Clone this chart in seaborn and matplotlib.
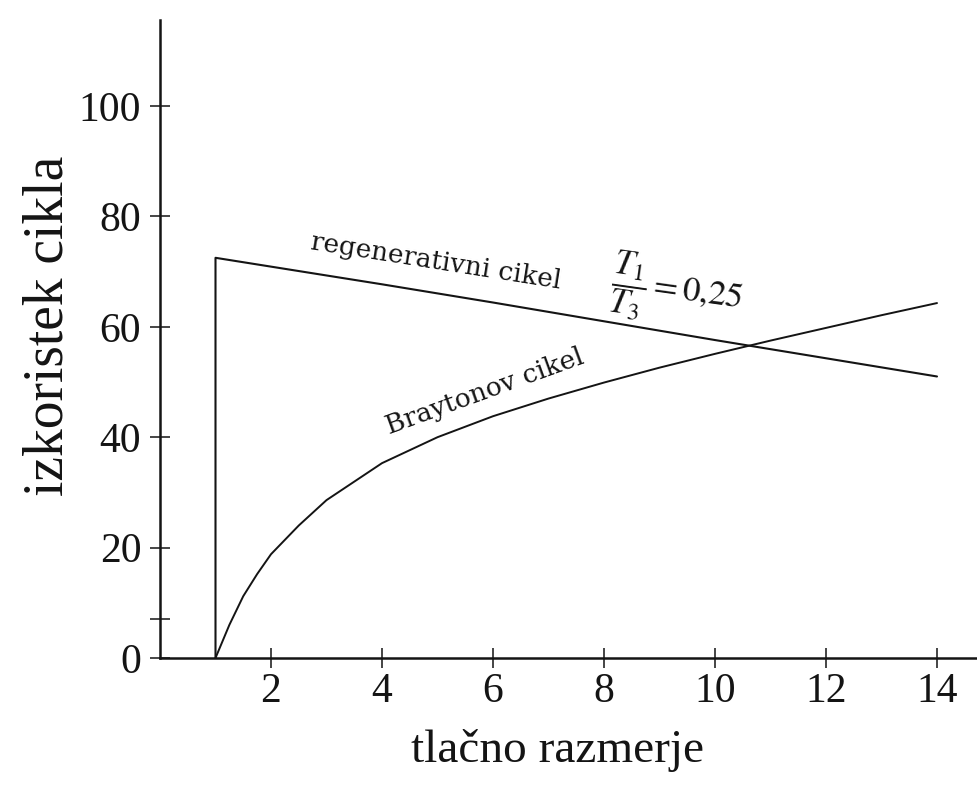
import matplotlib
matplotlib.use("Agg")
import matplotlib.pyplot as plt
from matplotlib.ticker import FixedLocator
import seaborn as sns
import pandas as pd

# ---- data ----
brayton_ratio = [1, 1.25, 1.5, 1.75, 2, 2.5, 3, 4, 5, 6, 7, 8, 9, 10, 11, 12, 13, 14]
brayton_eff = [0, 6.0, 11.2, 15.2, 18.8, 24.0, 28.6, 35.3, 40.0, 43.8, 47.0, 49.9,
               52.6, 55.1, 57.5, 59.8, 62.1, 64.3]

regen_ratio = [1, 1, 2, 4, 6, 8, 10, 12, 14]
regen_eff = [0, 72.5, 70.9, 67.7, 64.4, 61.0, 57.6, 54.3, 51.0]

x_ticks = [2, 4, 6, 8, 10, 12, 14]
y_ticks = [0, 20, 40, 60, 80, 100]
y_minor_ticks = [7]

x_label = "tlačno razmerje"
y_label = "izkoristek cikla"
regen_label = "regenerativni cikel"
brayton_label = "Braytonov cikel"
ratio_label = r"$\dfrac{T_1}{T_3} = \mathit{0{,}25}$"

# ---- styling ----
sns.set_theme(style="ticks")
plt.rcParams["font.family"] = ["Liberation Serif", "DejaVu Serif"]
plt.rcParams["mathtext.fontset"] = "stix"

ink = "#141414"

fig = plt.figure(figsize=(9.77, 7.98), dpi=100)
ax = fig.add_axes([160 / 977, 140 / 798, 817 / 977, 638 / 798])

df_b = pd.DataFrame({"r": brayton_ratio, "eta": brayton_eff})
df_r = pd.DataFrame({"r": regen_ratio, "eta": regen_eff})

sns.lineplot(data=df_b, x="r", y="eta", ax=ax, color=ink, lw=1.4,
             sort=False, estimator=None)
sns.lineplot(data=df_r, x="r", y="eta", ax=ax, color=ink, lw=1.5,
             sort=False, estimator=None)
for ln in ax.lines:
    ln.set_clip_on(False)
    ln.set_solid_joinstyle("round")

ax.set_xlim(0, 817 / 55.5)
ax.set_ylim(0, 638 / 5.52)

for s in ["top", "right"]:
    ax.spines[s].set_visible(False)
for s in ["left", "bottom"]:
    ax.spines[s].set_color(ink)
    ax.spines[s].set_linewidth(1.8)

ax.set_xticks(x_ticks)
ax.set_xticklabels([str(v) for v in x_ticks])
ax.set_yticks(y_ticks)
ax.set_yticklabels([str(v) for v in y_ticks])
ax.yaxis.set_minor_locator(FixedLocator(y_minor_ticks))

ax.tick_params(axis="both", which="both", direction="inout", length=15,
               width=1.1, color=ink, labelcolor=ink, labelsize=30)
ax.tick_params(axis="y", which="both", left=True, pad=6)
ax.tick_params(axis="x", which="both", bottom=True, pad=3)

ax.set_xlabel(x_label, fontsize=34, color=ink)
ax.xaxis.set_label_coords(0.486, -0.112)
ax.set_ylabel(y_label, fontsize=40, color=ink)
ax.yaxis.set_label_coords(-0.105, 0.52)

ax.text(4.97, 71.8, regen_label, rotation=-9, rotation_mode="anchor",
        ha="center", va="center", fontsize=19, family="DejaVu Serif", color=ink)
ax.text(9.3, 66.3, ratio_label, rotation=-8, rotation_mode="anchor",
        ha="center", va="center", fontsize=25, color=ink)
ax.text(5.85, 48.3, brayton_label, rotation=20, rotation_mode="anchor",
        ha="center", va="center", fontsize=19, family="DejaVu Serif", color=ink)

fig.savefig("out.png", dpi=100)
